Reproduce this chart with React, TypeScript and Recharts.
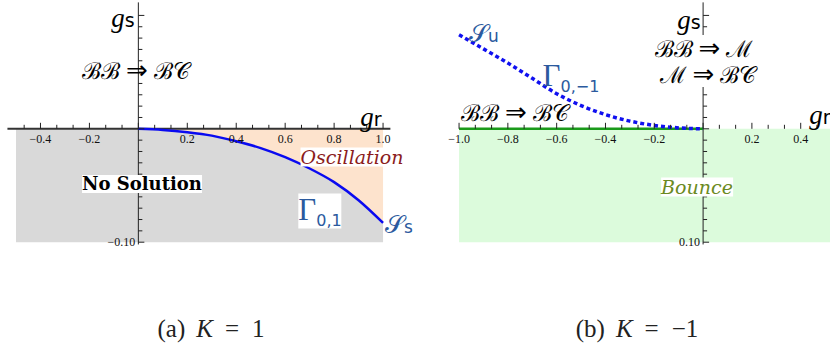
import React from "react";
import { ComposedChart, Area, Line, XAxis, YAxis, ReferenceLine, ReferenceDot } from "recharts";

// K = 1 panel: boundary curve Gamma_{0,1}
const grK1 = [0, 0.1, 0.2, 0.3, 0.4, 0.5, 0.6, 0.7, 0.8, 0.9, 1.0];
const gammaK1 = [0, -0.001, -0.003, -0.006, -0.011, -0.017, -0.025, -0.035, -0.047, -0.063, -0.083];

// K = -1 panel: boundary curve Gamma_{0,-1}
const grKm1 = [-1.0, -0.9, -0.8, -0.7, -0.6, -0.5, -0.4, -0.3, -0.2, -0.1, 0];
const gammaKm1 = [0.083, 0.0705, 0.058, 0.0445, 0.031, 0.0205, 0.0125, 0.0068, 0.003, 0.0008, 0];

const ticksK1 = ["−0.4", "−0.2", "0.2", "0.4", "0.6", "0.8", "1.0"];
const tickValsK1 = [-0.4, -0.2, 0.2, 0.4, 0.6, 0.8, 1.0];
const ticksKm1 = ["−1.0", "−0.8", "−0.6", "−0.4", "−0.2", "0.2", "0.4"];
const tickValsKm1 = [-1.0, -0.8, -0.6, -0.4, -0.2, 0.2, 0.4];
const yTickLabelK1 = "−0.10";
const yTickLabelKm1 = "0.10";

const noSolution = [
  { x: -0.5, band: [-0.1, 0] },
  ...grK1.map((x, i) => ({ x, band: [-0.1, gammaK1[i]] })),
];
const oscillation = grK1.map((x, i) => ({ x, band: [gammaK1[i], 0] }));
const curveK1 = grK1.map((x, i) => ({ x, y: gammaK1[i] }));
const curveKm1 = grKm1.map((x, i) => ({ x, y: gammaKm1[i] }));
const bounce = [
  { x: -1.0, band: [-0.1, 0] },
  { x: 0.6, band: [-0.1, 0] },
];
const bbLine = [
  { x: -1.0, y: 0 },
  { x: 0, y: 0 },
];

const W_L = 420;
const W_R = 410;
const H = 260;
const Y_DOMAIN: [number, number] = [-0.1157, 0.1136];

const serif = "'Liberation Serif', 'Times New Roman', serif";
const script = "'DejaVu Serif', serif";
const sans = "'DejaVu Sans', sans-serif";
const blueText = "#2b5a9e";

const intRange = (from: number, to: number) => {
  const out: number[] = [];
  for (let k = from; k <= to; k++) out.push(k);
  return out;
};

const XTick = (major: boolean) => (p: any) => (
  <line x1={p.cx} x2={p.cx} y1={p.cy} y2={p.cy - (major ? 6 : 4)} stroke="#222" strokeWidth={1} />
);
const YTick = (major: boolean) => (p: any) => (
  <line x1={p.cx} x2={p.cx + (major ? 6 : 4)} y1={p.cy} y2={p.cy} stroke="#222" strokeWidth={1} />
);
const XLabel = (label: string) => (p: any) => (
  <text x={p.cx} y={p.cy + 14} textAnchor="middle" fontFamily={serif} fontSize={12} fill="#111">
    {label}
  </text>
);
const YLabel = (label: string) => (p: any) => (
  <text x={p.cx - 3} y={p.cy + 4} textAnchor="end" fontFamily={serif} fontSize={12} fill="#111">
    {label}
  </text>
);

function Note({ x, y, bg, children, style }: any) {
  return (
    <div
      style={{
        position: "absolute",
        left: x,
        top: y,
        transform: "translate(-50%, -50%)",
        background: bg ? "#fff" : "transparent",
        whiteSpace: "nowrap",
        lineHeight: 1,
        ...style,
      }}
    >
      {children}
    </div>
  );
}

const G = ({ sub }: { sub: string }) => (
  <span>
    <span style={{ fontFamily: serif, fontStyle: "italic", fontSize: 27 }}>g</span>
    <span style={{ fontFamily: sans, fontSize: 19 }}>{sub}</span>
  </span>
);

const Gamma = ({ sub }: { sub: string }) => (
  <span style={{ color: blueText }}>
    <span style={{ fontFamily: serif, fontSize: 31 }}>Γ</span>
    <span style={{ fontFamily: sans, fontSize: 16, verticalAlign: -6 }}>{sub}</span>
  </span>
);

const Imp = ({ a, b }: { a: string; b: string }) => (
  <span style={{ fontFamily: script, fontSize: 23 }}>
    {a}
    <span style={{ fontFamily: sans, fontSize: 26, margin: "0 6px" }}>⇒</span>
    {b}
  </span>
);

const Sset = ({ sub }: { sub: string }) => (
  <span style={{ color: blueText }}>
    <span style={{ fontFamily: script, fontSize: 25 }}>𝒮</span>
    <span style={{ fontFamily: sans, fontSize: 17 }}>{sub}</span>
  </span>
);

const Caption = ({ tag, k }: { tag: string; k: string }) => (
  <span style={{ fontFamily: serif, fontSize: 25, color: "#222" }}>
    ({tag})<span style={{ marginLeft: 11, fontStyle: "italic" }}>K</span>
    <span style={{ margin: "0 13px 0 12px" }}>=</span>
    {k}
  </span>
);

export default function App() {
  const kL = intRange(-7, 15);
  const kR = intRange(-15, 7);
  const yk = intRange(-10, 10);
  return (
    <div style={{ position: "absolute", left: 0, top: 0, width: 830, height: 343, background: "#fff" }}>
      <div style={{ position: "absolute", left: 0, top: 0 }}>
        <ComposedChart width={W_L} height={H} margin={{ top: 0, right: 0, bottom: 0, left: 0 }}>
          <XAxis type="number" dataKey="x" domain={[-0.5654, 1.151]} allowDataOverflow hide />
          <YAxis type="number" domain={Y_DOMAIN} allowDataOverflow hide />
          <Area data={noSolution} dataKey="band" type="monotone" fill="#d9d9d9" fillOpacity={1} stroke="none" dot={false} activeDot={false} isAnimationActive={false} />
          <Area data={oscillation} dataKey="band" type="monotone" fill="#fde3cd" fillOpacity={1} stroke="none" dot={false} activeDot={false} isAnimationActive={false} />
          <ReferenceLine segment={[{ x: -0.535, y: 0 }, { x: 1.03, y: 0 }]} stroke="#333" strokeWidth={2} />
          <ReferenceLine segment={[{ x: 0, y: -0.102 }, { x: 0, y: 0.1115 }]} stroke="#222" strokeWidth={1} />
          {kL.map((k) => (
            <ReferenceDot key={"xt" + k} x={(k * 0.2) / 3} y={0} shape={XTick(k % 3 === 0)} />
          ))}
          {yk.map((k) => (
            <ReferenceDot key={"yt" + k} x={0} y={k / 100} shape={YTick(k % 5 === 0)} />
          ))}
          {tickValsK1.map((v, i) => (
            <ReferenceDot key={"xl" + i} x={v} y={0} shape={XLabel(ticksK1[i])} />
          ))}
          <ReferenceDot x={0} y={-0.1} shape={YLabel(yTickLabelK1)} />
          <Line data={curveK1} dataKey="y" type="monotone" stroke="#0a0af0" strokeWidth={2.5} dot={false} activeDot={false} isAnimationActive={false} />
        </ComposedChart>
      </div>
      <div style={{ position: "absolute", left: W_L, top: 0 }}>
        <ComposedChart width={W_R} height={H} margin={{ top: 0, right: 0, bottom: 0, left: 0 }}>
          <XAxis type="number" dataKey="x" domain={[-1.16, 0.52]} allowDataOverflow hide />
          <YAxis type="number" domain={Y_DOMAIN} allowDataOverflow hide />
          <Area data={bounce} dataKey="band" type="linear" fill="#dcfbdc" fillOpacity={1} stroke="none" dot={false} activeDot={false} isAnimationActive={false} />
          <ReferenceLine segment={[{ x: -1.03, y: 0 }, { x: 0.6, y: 0 }]} stroke="#222" strokeWidth={2} />
          <ReferenceLine segment={[{ x: 0, y: -0.102 }, { x: 0, y: 0.1115 }]} stroke="#222" strokeWidth={1} />
          {kR.map((k) => (
            <ReferenceDot key={"xt" + k} x={(k * 0.2) / 3} y={0} shape={XTick(k % 3 === 0)} />
          ))}
          {yk.map((k) => (
            <ReferenceDot key={"yt" + k} x={0} y={k / 100} shape={YTick(k % 5 === 0)} />
          ))}
          {tickValsKm1.map((v, i) => (
            <ReferenceDot key={"xl" + i} x={v} y={0} shape={XLabel(ticksKm1[i])} />
          ))}
          <ReferenceDot x={0} y={-0.1} shape={YLabel(yTickLabelKm1)} />
          <Line data={bbLine} dataKey="y" type="linear" stroke="#1a9a1a" strokeWidth={2.5} dot={false} activeDot={false} isAnimationActive={false} />
          <Line data={curveKm1} dataKey="y" type="monotone" stroke="#1010f0" strokeWidth={3.5} strokeDasharray="4 3" dot={false} activeDot={false} isAnimationActive={false} />
        </ComposedChart>
      </div>

      {/* annotations, panel (a) */}
      <Note x={123} y={18}><G sub="s" /></Note>
      <Note x={136} y={70}><Imp a="ℬℬ" b="ℬ𝒞" /></Note>
      <Note x={371} y={117}><G sub="r" /></Note>
      <Note x={142} y={184} bg style={{ fontFamily: script, fontWeight: "bold", fontSize: 18 }}>No Solution</Note>
      <Note x={352} y={157} bg style={{ fontFamily: script, fontStyle: "italic", fontSize: 19, color: "#8b1c1c" }}>Oscillation</Note>
      <Note x={320} y={211} bg><Gamma sub="0,1" /></Note>
      <Note x={399} y={224}><Sset sub="s" /></Note>

      {/* annotations, panel (b) */}
      <Note x={689} y={20}><G sub="s" /></Note>
      <Note x={820} y={115}><G sub="r" /></Note>
      <Note x={484} y={33}><Sset sub="u" /></Note>
      <Note x={571} y={77}><Gamma sub="0,−1" /></Note>
      <Note x={515} y={112}><Imp a="ℬℬ" b="ℬ𝒞" /></Note>
      <Note x={704} y={48} bg><Imp a="ℬℬ" b="ℳ" /></Note>
      <Note x={708} y={74} bg><Imp a="ℳ" b="ℬ𝒞" /></Note>
      <Note x={697} y={187} bg style={{ fontFamily: script, fontStyle: "italic", fontSize: 19, color: "#6b8a22" }}>Bounce</Note>

      {/* captions */}
      <Note x={211} y={328}><Caption tag="a" k="1" /></Note>
      <Note x={637} y={328}><Caption tag="b" k="−1" /></Note>
    </div>
  );
}
